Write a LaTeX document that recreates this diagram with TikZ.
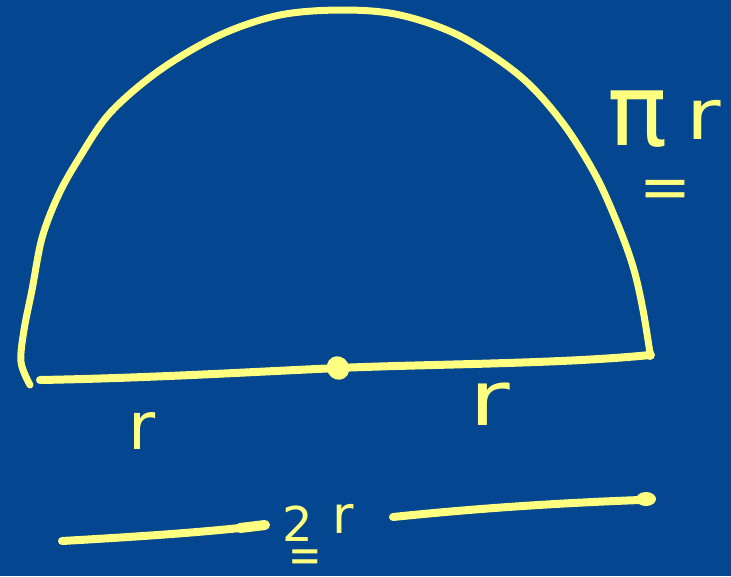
\documentclass[tikz,border=0pt]{standalone}
\usepackage{fontspec}
\setmainfont{DejaVu Sans}
\usetikzlibrary{shapes.geometric}
\definecolor{bg}{HTML}{04468F}
\definecolor{ink}{HTML}{FFFF80}
\begin{document}
\begin{tikzpicture}[x=1pt,y=-1pt,
  pen/.style={draw=ink,line width=7pt,line cap=round,line join=round},
  blob/.style={fill=ink,draw=none},
  lbl/.style={text=ink,inner sep=0pt}]
\fill[bg] (0,0) rectangle (731,576);
\useasboundingbox (0,0) rectangle (731,576);
% semicircle arc
\draw[pen] plot[smooth,tension=0.55] coordinates {(30,385) (21,362) (24,330) (32,290) (42,238) (58,196) (78,160) (110,113) (160,70) (220,35) (280,15) (343,10) (400,15) (460,36) (520,76) (562,122) (596,176) (620,230) (634,270) (643,310) (650,353)};
% diameter
\coordinate (dl) at (40,380);
\coordinate (dr) at (650,355);
\node[blob,ellipse,minimum width=22pt,minimum height=24pt,inner sep=0pt,rotate=30] (c) at (338,368) {};
\draw[pen,line width=8pt] (dl) .. controls (150,378) and (250,372) .. (c.center) .. controls (430,364) and (560,364) .. (dr);
\fill[ink] (dr) circle (5pt);
% labels
\node[lbl,font=\fontsize{66}{66}\selectfont] (rl) at (142,431) {r};
\node[lbl,font=\fontsize{76}{76}\selectfont,xscale=1.3] (rr) at (490,404) {r};
\node[lbl,font=\fontsize{100}{100}\selectfont] (pi) at (638,119) {π};
\node[lbl,font=\fontsize{70}{70}\selectfont,xscale=1.2] (pr) at (704,120) {r};
\node[lbl,font=\fontsize{62}{62}\selectfont] (eq1) at (665,194) {=};
\node[lbl,font=\fontsize{48}{48}\selectfont] (two) at (298,524) {2};
\node[lbl,font=\fontsize{52}{52}\selectfont] (r2) at (343,519) {r};
\node[lbl,font=\fontsize{50}{50}\selectfont,xscale=0.8] (eq2) at (305,561) {=};
% 2r dimension lines
\coordinate (al) at (62,541);
\coordinate (ar) at (265,525);
\coordinate (bl) at (393,517);
\coordinate (br) at (640,500);
\draw[pen,line width=8pt] (al) .. controls (150,536) and (220,531) .. (ar);
\draw[pen,line width=10pt] (240,528) -- (ar);
\draw[pen,line width=8pt] (bl) .. controls (480,508) and (560,503) .. (br);
\node[blob,ellipse,minimum width=20pt,minimum height=14pt,inner sep=0pt] (bd) at (646,499) {};
\end{tikzpicture}
\end{document}
